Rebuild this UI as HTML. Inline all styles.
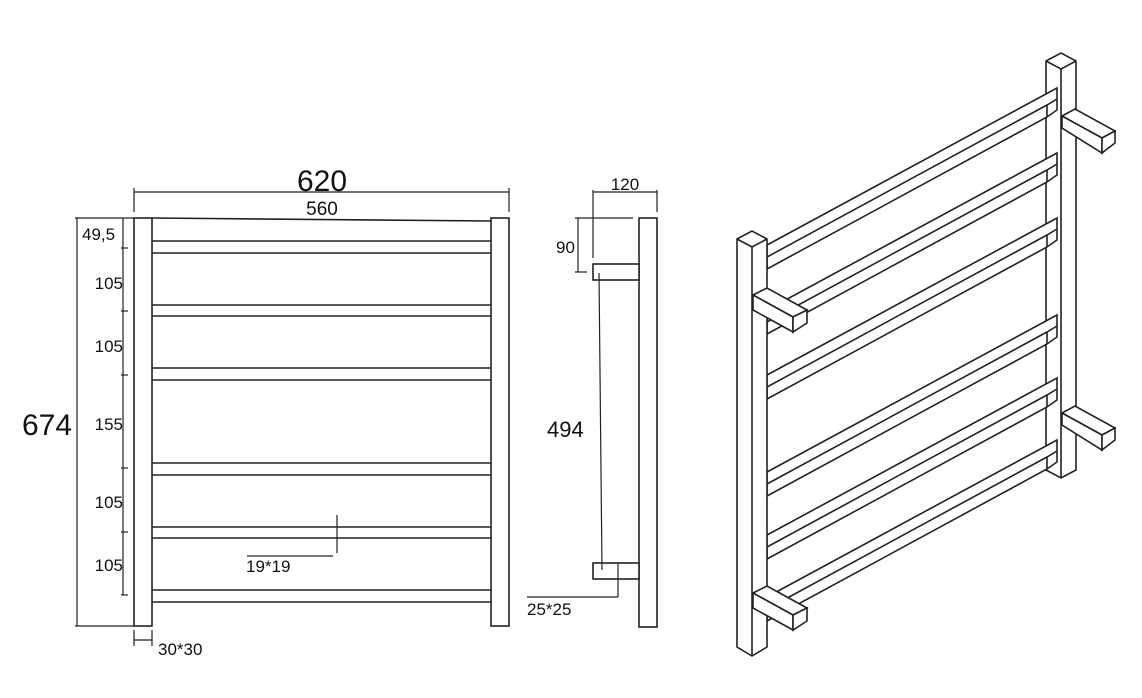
<!DOCTYPE html>
<html><head><meta charset="utf-8"><style>
html,body{margin:0;padding:0;background:#fff;}
svg{display:block;}
text{font-family:"Liberation Sans",sans-serif;fill:#111;}
</style></head><body>
<svg width="1142" height="698" viewBox="0 0 1142 698" xmlns="http://www.w3.org/2000/svg">
<g stroke="#222" stroke-width="1.6" fill="none">
<!-- FRONT VIEW -->
<rect x="134" y="218" width="18" height="408" fill="#fff"/>
<rect x="491" y="218" width="18" height="408" fill="#fff"/>
<line x1="152" y1="218" x2="491" y2="221"/>
<g>
<line x1="152" y1="241" x2="491" y2="241"/><line x1="152" y1="253" x2="491" y2="253"/>
<line x1="152" y1="305" x2="491" y2="305"/><line x1="152" y1="316" x2="491" y2="316"/>
<line x1="152" y1="368" x2="491" y2="368"/><line x1="152" y1="380" x2="491" y2="380"/>
<line x1="152" y1="463" x2="491" y2="463"/><line x1="152" y1="475" x2="491" y2="475"/>
<line x1="152" y1="527" x2="491" y2="527"/><line x1="152" y1="538" x2="491" y2="538"/>
<line x1="152" y1="590" x2="491" y2="590"/><line x1="152" y1="602" x2="491" y2="602"/>
</g>
<line x1="134" y1="192" x2="509" y2="192" stroke-width="1.2"/>
<line x1="134" y1="188" x2="134" y2="212" stroke-width="1.2"/>
<line x1="509" y1="188" x2="509" y2="212" stroke-width="1.2"/>
<line x1="77" y1="218" x2="77" y2="626" stroke-width="1.2"/>
<line x1="75" y1="218" x2="134" y2="218" stroke-width="1.2"/>
<line x1="75" y1="626" x2="134" y2="626" stroke-width="1.2"/>
<line x1="123" y1="218" x2="123" y2="595" stroke-width="1.2"/>
<g stroke-width="1.2">
<line x1="121" y1="248" x2="128" y2="248"/><line x1="121" y1="311" x2="128" y2="311"/>
<line x1="121" y1="375" x2="128" y2="375"/><line x1="121" y1="468" x2="128" y2="468"/>
<line x1="121" y1="532" x2="128" y2="532"/><line x1="121" y1="595" x2="128" y2="595"/>
</g>
<line x1="337" y1="515" x2="337" y2="553" stroke-width="1.2"/>
<line x1="247" y1="556" x2="333" y2="556" stroke-width="1.2"/>
<line x1="134" y1="630" x2="134" y2="646" stroke-width="1.2"/>
<line x1="152" y1="630" x2="152" y2="646" stroke-width="1.2"/>
<line x1="134" y1="640" x2="152" y2="640" stroke-width="1.2"/>

<!-- SIDE VIEW -->
<rect x="639" y="218" width="18" height="409" fill="#fff"/>
<rect x="593" y="264" width="46" height="16" fill="#fff"/>
<rect x="593" y="563" width="46" height="16" fill="#fff"/>
<line x1="599" y1="273" x2="602" y2="570" stroke-width="1.2"/>
<line x1="593" y1="192" x2="657" y2="192" stroke-width="1.2"/>
<line x1="593" y1="190" x2="593" y2="258" stroke-width="1.2"/>
<line x1="657" y1="190" x2="657" y2="212" stroke-width="1.2"/>
<line x1="578" y1="218" x2="578" y2="272" stroke-width="1.2"/>
<line x1="575" y1="218" x2="633" y2="218" stroke-width="1.2"/>
<line x1="575" y1="272" x2="587" y2="272" stroke-width="1.2"/>
<line x1="618" y1="563" x2="618" y2="597" stroke-width="1.2"/>
<line x1="527" y1="597" x2="618" y2="597" stroke-width="1.2"/>

<!-- ISO VIEW -->
<polygon points="1046,61 1061,53 1076,61 1076,470 1061,478 1046,470" fill="#fff"/>
<line x1="1061" y1="69" x2="1061" y2="478"/>
<polyline points="1046,61 1061,69 1076,61"/>
<g fill="#fff">
<polygon points="1062,116 1075,109 1115,131 1102,138"/>
<polygon points="1062,116 1102,138 1102,153 1062,128"/>
<polygon points="1102,138 1115,131 1115,143 1102,153"/>
<polygon points="1062,413 1075,406 1115,428 1102,435"/>
<polygon points="1062,413 1102,435 1102,450 1062,425"/>
<polygon points="1102,435 1115,428 1115,440 1102,450"/>
</g>
<g fill="#fff">
<polygon points="767,245 1057,88 1057,110 1047,117 767,269"/>
<polygon points="767,310 1057,153 1057,175 1047,182 767,334"/>
<polygon points="767,375 1057,218 1057,240 1047,247 767,399"/>
<polygon points="767,472 1057,315 1057,337 1047,344 767,496"/>
<polygon points="767,535 1057,378 1057,400 1047,407 767,559"/>
<polygon points="767,597 1057,440 1057,462 1047,469 767,621"/>
</g>
<g>
<polyline points="767,257 1047,105 1057,99"/><line x1="1047" y1="105" x2="1047" y2="117"/>
<polyline points="767,322 1047,170 1057,164"/><line x1="1047" y1="170" x2="1047" y2="182"/>
<polyline points="767,387 1047,235 1057,229"/><line x1="1047" y1="235" x2="1047" y2="247"/>
<polyline points="767,484 1047,332 1057,326"/><line x1="1047" y1="332" x2="1047" y2="344"/>
<polyline points="767,547 1047,395 1057,389"/><line x1="1047" y1="395" x2="1047" y2="407"/>
<polyline points="767,609 1047,457 1057,451"/><line x1="1047" y1="457" x2="1047" y2="469"/>
</g>
<polygon points="737,239 752,231 767,239 767,647 752,656 737,647" fill="#fff"/>
<line x1="752" y1="247" x2="752" y2="656"/>
<polyline points="737,239 752,247 767,239"/>
<g fill="#fff">
<polygon points="753,295 767,288 807,310 793,317"/>
<polygon points="753,295 793,317 793,332 753,310"/>
<polygon points="793,317 807,310 807,323 793,332"/>
<polygon points="753,593 767,586 807,608 793,615"/>
<polygon points="753,593 793,615 793,630 753,608"/>
<polygon points="793,615 807,608 807,621 793,630"/>
</g>
</g>

<text x="322" y="191" font-size="30" text-anchor="middle">620</text>
<text x="322" y="215" font-size="19" text-anchor="middle">560</text>
<text x="82" y="240" font-size="17">49,5</text>
<text x="123" y="289" font-size="17" text-anchor="end">105</text>
<text x="123" y="352" font-size="17" text-anchor="end">105</text>
<text x="123" y="430" font-size="17" text-anchor="end">155</text>
<text x="123" y="508" font-size="17" text-anchor="end">105</text>
<text x="123" y="571" font-size="17" text-anchor="end">105</text>
<text x="22" y="435" font-size="30">674</text>
<text x="246" y="572" font-size="17">19*19</text>
<text x="158" y="655" font-size="17">30*30</text>
<text x="625" y="190" font-size="17" text-anchor="middle">120</text>
<text x="556" y="253" font-size="17">90</text>
<text x="547" y="437" font-size="22">494</text>
<text x="527" y="615" font-size="17">25*25</text>
</svg>
</body></html>
